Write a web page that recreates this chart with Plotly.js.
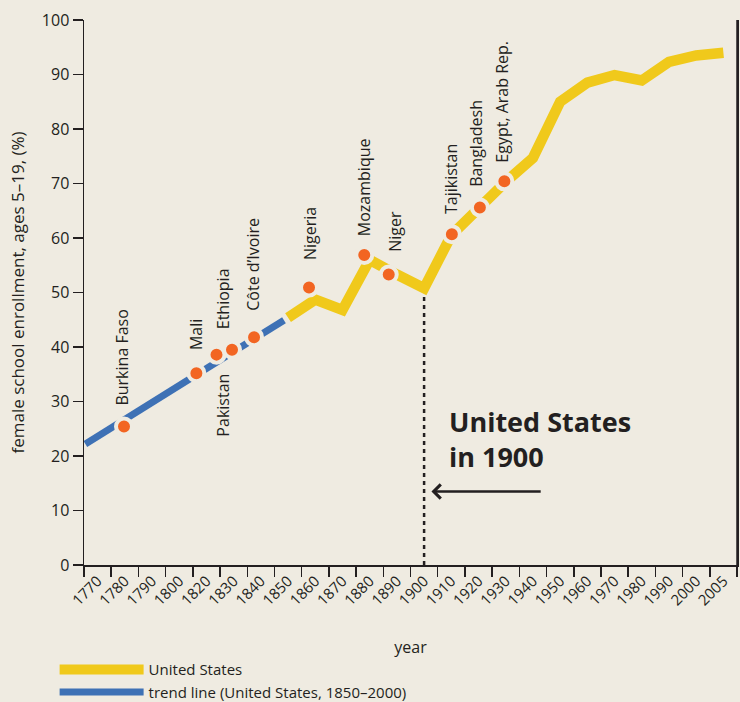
<!DOCTYPE html>
<html>
<head>
<meta charset="utf-8">
<script src="https://cdn.plot.ly/plotly-3.0.1.min.js"></script>
<style>html,body{margin:0;padding:0;background:#efebe1;}#chart{width:740px;height:702px;}</style>
</head>
<body>
<div id="chart"></div>
<script>
// x-axis categories (equally spaced on the chart)
var categories = ['1770','1780','1790','1800','1820','1830','1840','1850','1860','1870','1880','1890','1900','1910','1920','1930','1940','1950','1960','1970','1980','1990','2000','2005'];

// United States female school enrollment (%)
var usYears  = ['1850','1860','1870','1880','1890','1900','1910','1920','1930','1940','1950','1960','1970','1980','1990','2000','2005'];
var usValues = [45.4, 48.7, 46.8, 56.0, 53.3, 50.8, 60.5, 65.5, 70.3, 74.7, 85.0, 88.5, 89.9, 88.9, 92.3, 93.5, 94.0];

// trend line endpoints (position on category scale, value)
var trendPos    = [-0.45, 6.85];
var trendValues = [22.2, 44.9];

// countries today (position on category scale, value)
var countries     = ['Burkina Faso','Mali','Pakistan','Ethiopia','Côte d’Ivoire','Nigeria','Mozambique','Niger','Tajikistan','Bangladesh','Egypt, Arab Rep.'];
var countryPos    = [0.97, 3.63, 4.37, 4.94, 5.75, 7.77, 9.8, 10.7, 13.02, 14.05, 14.95];
var countryValues = [25.4, 35.2, 38.6, 39.5, 41.8, 50.9, 56.9, 53.3, 60.7, 65.6, 70.4];

// label placement (px): [xshift, yshift, below?]
var labelOffsets = [[-2,19,0],[-1,21,0],[7,-17,1],[-9,18,0],[-1,24,0],[1,25,0],[0,17,0],[6,21,0],[-1,18,0],[-4,19,0],[-2,17,0]];

var bg = '#efebe1';
var ink = '#231f20';
var FONT = 'Open Sans, sans-serif';

var catIndex = categories.map(function(c, i){ return i; });
var usPos = usYears.map(function(y){ return categories.indexOf(y); });

var traces = [
  {
    x: usPos, y: usValues, type: 'scatter', mode: 'lines',
    name: 'United States',
    line: {color: '#f0c91b', width: 10.5},
    hoverinfo: 'skip'
  },
  {
    x: trendPos, y: trendValues, type: 'scatter', mode: 'lines',
    name: 'trend line (United States, 1850–2000)',
    line: {color: '#3e71b5', width: 7},
    hoverinfo: 'skip'
  },
  {
    x: countryPos, y: countryValues, type: 'scatter', mode: 'markers',
    name: 'countries', showlegend: false,
    marker: {color: '#f26522', size: 16, line: {color: bg, width: 4}},
    text: countries, hoverinfo: 'text'
  }
];

var annotations = countries.map(function(name, i){
  var o = labelOffsets[i];
  return {
    x: countryPos[i], y: countryValues[i], xref: 'x', yref: 'y',
    text: name, textangle: -90, showarrow: false,
    xanchor: 'center', yanchor: o[2] ? 'top' : 'bottom',
    xshift: o[0], yshift: o[1],
    font: {family: FONT, size: 16, color: ink}
  };
});

annotations.push({
  x: 12.85, y: 23.2, xref: 'x', yref: 'y',
  text: 'United States<br>in 1900', showarrow: false,
  xanchor: 'left', yanchor: 'middle', align: 'left',
  font: {family: FONT, size: 27, color: ink, weight: 'bold'}
});
annotations.push({
  x: 12.27, y: 13.5, xref: 'x', yref: 'y',
  ax: 16.34, ay: 13.5, axref: 'x', ayref: 'y',
  text: '', showarrow: true, arrowhead: 4, arrowsize: 1.1, arrowwidth: 2.5,
  arrowcolor: ink, standoff: 0
});

var i1900 = categories.indexOf('1900');
var v1900 = usValues[usYears.indexOf('1900')];

var boundaries = [];
for (var b = 0; b <= categories.length; b++) boundaries.push(b - 0.5);

var layout = {
  width: 740, height: 702,
  paper_bgcolor: bg, plot_bgcolor: bg,
  margin: {l: 84, r: 3, t: 20, b: 136.5, autoexpand: false},
  font: {family: FONT, color: ink, size: 16},
  showlegend: true,
  legend: {
    x: -0.045, y: -0.162, xanchor: 'left', yanchor: 'top',
    orientation: 'v', bgcolor: 'rgba(0,0,0,0)',
    font: {family: FONT, size: 15, color: ink},
    itemwidth: 84, tracegroupgap: 0
  },
  xaxis: {
    range: [-0.5, categories.length - 0.5],
    tickmode: 'array', tickvals: catIndex, ticktext: categories,
    ticks: '', tickangle: -45,
    tickfont: {family: FONT, size: 15, color: ink},
    showline: true, linecolor: ink, linewidth: 1.5,
    showgrid: false, zeroline: false,
    minor: {tickmode: 'array', tickvals: boundaries, ticks: 'outside', ticklen: 10, tickwidth: 1.5, tickcolor: ink, showgrid: false},
    title: {text: 'year', font: {family: FONT, size: 16, color: ink}, standoff: 33}
  },
  yaxis: {
    range: [0, 100], tickmode: 'linear', tick0: 0, dtick: 10,
    ticks: 'outside', ticklen: 10, tickwidth: 1.5, tickcolor: ink,
    tickfont: {family: FONT, size: 16, color: ink},
    showline: true, linecolor: ink, linewidth: 1.5, mirror: true,
    showgrid: false, zeroline: false,
    title: {text: 'female school enrollment, ages 5–19, (%)', font: {family: FONT, size: 17, color: ink}, standoff: 13}
  },
  shapes: [{
    type: 'line', xref: 'x', yref: 'y', layer: 'below',
    x0: i1900, x1: i1900, y0: 0, y1: v1900,
    line: {color: ink, width: 2.5, dash: '4px,4px'}
  }, {
    type: 'line', xref: 'paper', yref: 'paper', layer: 'above',
    x0: 1, x1: 1, y0: 0, y1: 1,
    line: {color: ink, width: 1.5}
  }],
  annotations: annotations
};

Plotly.newPlot('chart', traces, layout, {displayModeBar: false, staticPlot: true});
</script>
</body>
</html>
